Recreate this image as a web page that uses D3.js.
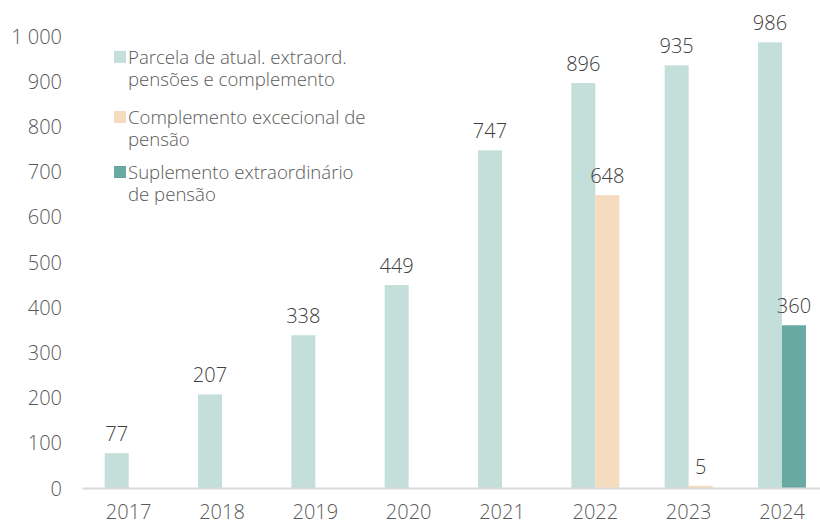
<!DOCTYPE html>
<html>
<head>
<meta charset="utf-8">
<script src="https://cdn.jsdelivr.net/npm/d3@7"></script>
<style>
  html, body { margin: 0; padding: 0; background: #fff; }
  svg { display: block; font-family: "Open Sans", sans-serif; font-weight: 300; }
</style>
</head>
<body>
<svg id="chart" width="820" height="524"></svg>
<script>
const years = ["2017", "2018", "2019", "2020", "2021", "2022", "2023", "2024"];
const parcela = [77, 207, 338, 449, 747, 896, 935, 986];
const complemento = [null, null, null, null, null, 648, 5, null];
const suplemento = [null, null, null, null, null, null, null, 360];
const yTicks = [0, 100, 200, 300, 400, 500, 600, 700, 800, 900, 1000];
const legendItems = [
  { lines: ["Parcela de atual. extraord.", "pensões e complemento"], color: "#c4dfda" },
  { lines: ["Complemento excecional de", "pensão"], color: "#f5dcbf" },
  { lines: ["Suplemento extraordinário", "de pensão"], color: "#68aaa1" }
];

const svg = d3.select("#chart");
const textColor = "#595959";
const fontSize = 20;

const x = d3.scaleBand().domain(years).range([82, 82 + 8 * 93.33]).padding(0);
const y = d3.scaleLinear().domain([0, 1000]).range([488, 36]);
const barW = 24;

// y axis labels
const yAxis = d3.axisLeft(y).tickValues(yTicks).tickSize(0).tickPadding(20)
  .tickFormat(d => d3.format(",")(d).replace(/,/g, "\u00a0"));
const gy = svg.append("g").attr("transform", "translate(82,0)").call(yAxis);
gy.select(".domain").remove();
gy.selectAll("text").attr("font-size", fontSize).attr("fill", textColor)
  .attr("font-family", "Open Sans, sans-serif").attr("font-weight", 300).attr("dy", "0.35em");

// bars
const series = [
  { values: parcela, color: legendItems[0].color, offset: -barW },
  { values: complemento, color: legendItems[1].color, offset: 0 },
  { values: suplemento, color: legendItems[2].color, offset: 0 }
];
series.forEach(s => {
  const data = years.map((yr, i) => ({ yr, v: s.values[i] })).filter(d => d.v != null);
  svg.append("g").selectAll("rect").data(data).join("rect")
    .attr("x", d => x(d.yr) + x.bandwidth() / 2 + s.offset)
    .attr("width", barW)
    .attr("y", d => y(d.v))
    .attr("height", d => y(0) - y(d.v))
    .attr("fill", s.color);
  svg.append("g").selectAll("text").data(data).join("text")
    .attr("x", d => x(d.yr) + x.bandwidth() / 2 + s.offset + barW / 2)
    .attr("y", d => y(d.v) - 12)
    .attr("text-anchor", "middle")
    .attr("font-size", fontSize)
    .attr("fill", "#404040")
    .text(d => d.v);
});

// x axis
const xAxis = d3.axisBottom(x).tickSize(0).tickPadding(17);
const gx = svg.append("g").attr("transform", `translate(0,${y(0)})`).call(xAxis);
gx.select(".domain").attr("stroke", "#d9d9d9").attr("stroke-width", 2);
gx.selectAll("text").attr("font-size", fontSize).attr("fill", textColor)
  .attr("font-family", "Open Sans, sans-serif").attr("font-weight", 300);

// legend
const legendTops = [57, 117, 172];
legendItems.forEach((item, i) => {
  const g = svg.append("g");
  g.append("rect").attr("x", 114).attr("y", legendTops[i] - 6).attr("width", 12).attr("height", 12)
    .attr("fill", item.color);
  const t = g.append("text").attr("x", 128).attr("y", legendTops[i])
    .attr("font-size", 18.6).attr("fill", textColor);
  item.lines.forEach((ln, j) => {
    t.append("tspan").attr("x", 128).attr("dy", j === 0 ? "0.35em" : 22.5).text(ln);
  });
});
</script>
</body>
</html>
